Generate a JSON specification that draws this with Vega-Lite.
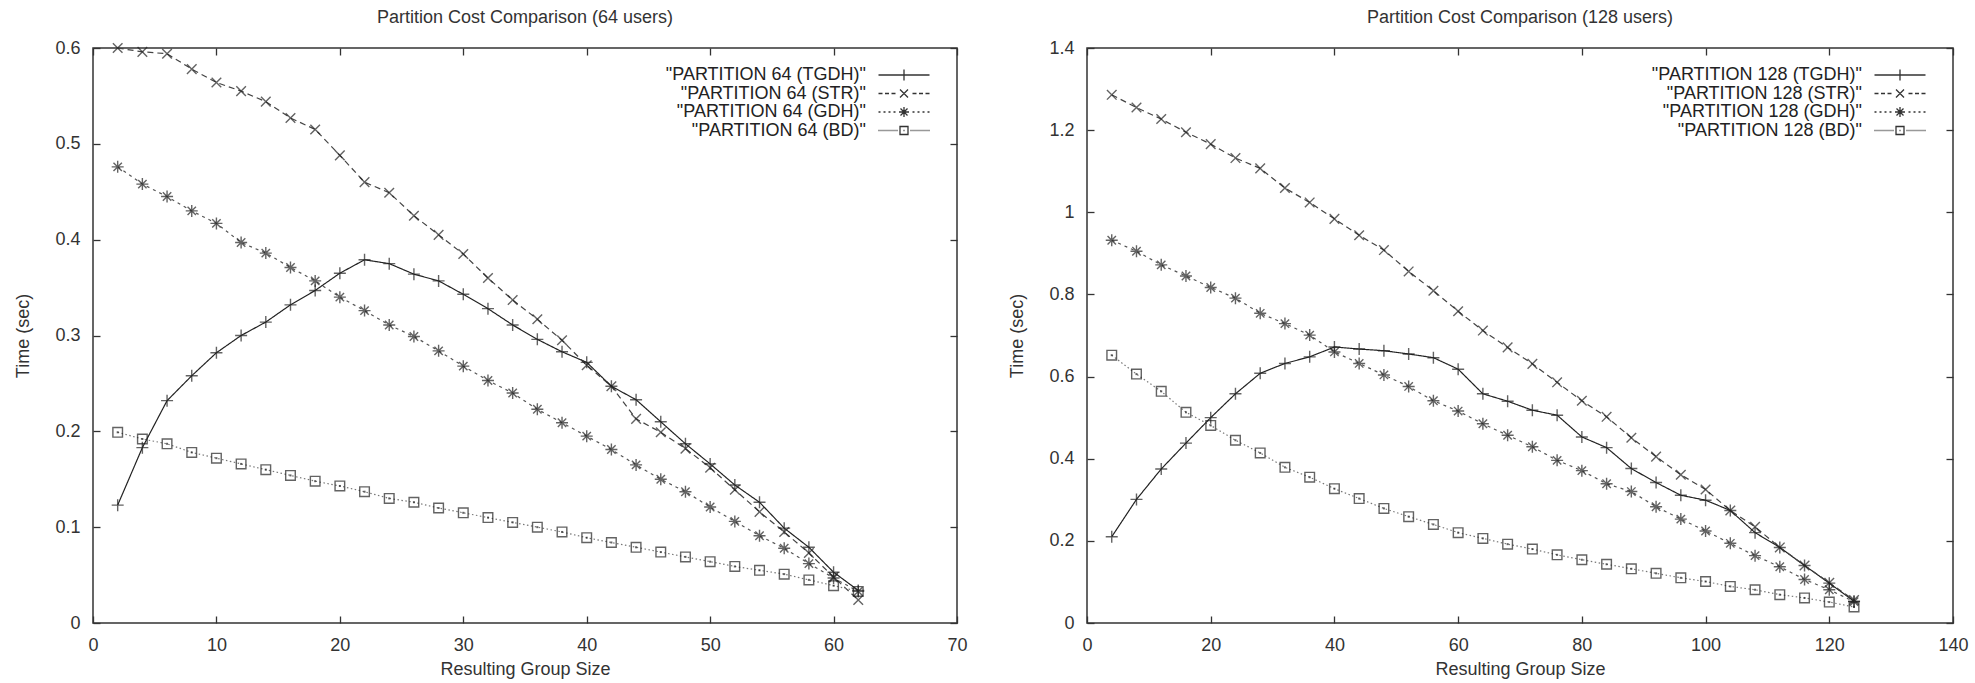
{
  "$schema": "https://vega.github.io/schema/vega-lite/v6.json",
  "padding": {"left": 14, "top": 8, "right": 5, "bottom": 0},
  "background": "white",
  "spacing": 40,
  "config": {
    "font": "Liberation Sans",
    "view": {"stroke": "#333", "strokeWidth": 1.5},
    "title": {"fontSize": 18, "fontWeight": "normal", "color": "#333", "font": "Liberation Sans", "offset": 12},
    "axis": {
      "domain": false, "grid": false,
      "labelFont": "Liberation Sans", "labelFontSize": 18, "labelColor": "#333",
      "titleFont": "Liberation Sans", "titleFontSize": 18, "titleFontWeight": "normal", "titleColor": "#333",
      "tickColor": "#333", "tickWidth": 1.3, "tickSize": -7, "labelPadding": 20,
      "labelFlush": false, "labelOverlap": false
    },
    "axisY": {"titlePadding": 22},
    "axisX": {"titlePadding": 6}
  },
  "datasets": {
    "d64": [
      {"s":"PARTITION 64 (TGDH)","x":2,"y":0.123},{"s":"PARTITION 64 (TGDH)","x":4,"y":0.183},{"s":"PARTITION 64 (TGDH)","x":6,"y":0.232},{"s":"PARTITION 64 (TGDH)","x":8,"y":0.258},{"s":"PARTITION 64 (TGDH)","x":10,"y":0.282},{"s":"PARTITION 64 (TGDH)","x":12,"y":0.300},{"s":"PARTITION 64 (TGDH)","x":14,"y":0.314},{"s":"PARTITION 64 (TGDH)","x":16,"y":0.332},{"s":"PARTITION 64 (TGDH)","x":18,"y":0.347},{"s":"PARTITION 64 (TGDH)","x":20,"y":0.365},{"s":"PARTITION 64 (TGDH)","x":22,"y":0.379},{"s":"PARTITION 64 (TGDH)","x":24,"y":0.375},{"s":"PARTITION 64 (TGDH)","x":26,"y":0.364},{"s":"PARTITION 64 (TGDH)","x":28,"y":0.357},{"s":"PARTITION 64 (TGDH)","x":30,"y":0.343},{"s":"PARTITION 64 (TGDH)","x":32,"y":0.328},{"s":"PARTITION 64 (TGDH)","x":34,"y":0.311},{"s":"PARTITION 64 (TGDH)","x":36,"y":0.296},{"s":"PARTITION 64 (TGDH)","x":38,"y":0.283},{"s":"PARTITION 64 (TGDH)","x":40,"y":0.272},{"s":"PARTITION 64 (TGDH)","x":42,"y":0.247},{"s":"PARTITION 64 (TGDH)","x":44,"y":0.233},{"s":"PARTITION 64 (TGDH)","x":46,"y":0.210},{"s":"PARTITION 64 (TGDH)","x":48,"y":0.187},{"s":"PARTITION 64 (TGDH)","x":50,"y":0.166},{"s":"PARTITION 64 (TGDH)","x":52,"y":0.144},{"s":"PARTITION 64 (TGDH)","x":54,"y":0.126},{"s":"PARTITION 64 (TGDH)","x":56,"y":0.099},{"s":"PARTITION 64 (TGDH)","x":58,"y":0.079},{"s":"PARTITION 64 (TGDH)","x":60,"y":0.053},{"s":"PARTITION 64 (TGDH)","x":62,"y":0.034},
      {"s":"PARTITION 64 (STR)","x":2,"y":0.600},{"s":"PARTITION 64 (STR)","x":4,"y":0.596},{"s":"PARTITION 64 (STR)","x":6,"y":0.594},{"s":"PARTITION 64 (STR)","x":8,"y":0.578},{"s":"PARTITION 64 (STR)","x":10,"y":0.564},{"s":"PARTITION 64 (STR)","x":12,"y":0.555},{"s":"PARTITION 64 (STR)","x":14,"y":0.544},{"s":"PARTITION 64 (STR)","x":16,"y":0.527},{"s":"PARTITION 64 (STR)","x":18,"y":0.515},{"s":"PARTITION 64 (STR)","x":20,"y":0.488},{"s":"PARTITION 64 (STR)","x":22,"y":0.460},{"s":"PARTITION 64 (STR)","x":24,"y":0.449},{"s":"PARTITION 64 (STR)","x":26,"y":0.425},{"s":"PARTITION 64 (STR)","x":28,"y":0.405},{"s":"PARTITION 64 (STR)","x":30,"y":0.385},{"s":"PARTITION 64 (STR)","x":32,"y":0.360},{"s":"PARTITION 64 (STR)","x":34,"y":0.337},{"s":"PARTITION 64 (STR)","x":36,"y":0.317},{"s":"PARTITION 64 (STR)","x":38,"y":0.295},{"s":"PARTITION 64 (STR)","x":40,"y":0.269},{"s":"PARTITION 64 (STR)","x":42,"y":0.247},{"s":"PARTITION 64 (STR)","x":44,"y":0.213},{"s":"PARTITION 64 (STR)","x":46,"y":0.199},{"s":"PARTITION 64 (STR)","x":48,"y":0.182},{"s":"PARTITION 64 (STR)","x":50,"y":0.162},{"s":"PARTITION 64 (STR)","x":52,"y":0.139},{"s":"PARTITION 64 (STR)","x":54,"y":0.116},{"s":"PARTITION 64 (STR)","x":56,"y":0.095},{"s":"PARTITION 64 (STR)","x":58,"y":0.073},{"s":"PARTITION 64 (STR)","x":60,"y":0.048},{"s":"PARTITION 64 (STR)","x":62,"y":0.024},
      {"s":"PARTITION 64 (GDH)","x":2,"y":0.476},{"s":"PARTITION 64 (GDH)","x":4,"y":0.458},{"s":"PARTITION 64 (GDH)","x":6,"y":0.445},{"s":"PARTITION 64 (GDH)","x":8,"y":0.430},{"s":"PARTITION 64 (GDH)","x":10,"y":0.417},{"s":"PARTITION 64 (GDH)","x":12,"y":0.397},{"s":"PARTITION 64 (GDH)","x":14,"y":0.386},{"s":"PARTITION 64 (GDH)","x":16,"y":0.371},{"s":"PARTITION 64 (GDH)","x":18,"y":0.357},{"s":"PARTITION 64 (GDH)","x":20,"y":0.340},{"s":"PARTITION 64 (GDH)","x":22,"y":0.326},{"s":"PARTITION 64 (GDH)","x":24,"y":0.311},{"s":"PARTITION 64 (GDH)","x":26,"y":0.299},{"s":"PARTITION 64 (GDH)","x":28,"y":0.284},{"s":"PARTITION 64 (GDH)","x":30,"y":0.268},{"s":"PARTITION 64 (GDH)","x":32,"y":0.253},{"s":"PARTITION 64 (GDH)","x":34,"y":0.240},{"s":"PARTITION 64 (GDH)","x":36,"y":0.223},{"s":"PARTITION 64 (GDH)","x":38,"y":0.209},{"s":"PARTITION 64 (GDH)","x":40,"y":0.195},{"s":"PARTITION 64 (GDH)","x":42,"y":0.181},{"s":"PARTITION 64 (GDH)","x":44,"y":0.165},{"s":"PARTITION 64 (GDH)","x":46,"y":0.150},{"s":"PARTITION 64 (GDH)","x":48,"y":0.137},{"s":"PARTITION 64 (GDH)","x":50,"y":0.121},{"s":"PARTITION 64 (GDH)","x":52,"y":0.106},{"s":"PARTITION 64 (GDH)","x":54,"y":0.091},{"s":"PARTITION 64 (GDH)","x":56,"y":0.078},{"s":"PARTITION 64 (GDH)","x":58,"y":0.062},{"s":"PARTITION 64 (GDH)","x":60,"y":0.047},{"s":"PARTITION 64 (GDH)","x":62,"y":0.033},
      {"s":"PARTITION 64 (BD)","x":2,"y":0.199},{"s":"PARTITION 64 (BD)","x":4,"y":0.192},{"s":"PARTITION 64 (BD)","x":6,"y":0.187},{"s":"PARTITION 64 (BD)","x":8,"y":0.178},{"s":"PARTITION 64 (BD)","x":10,"y":0.172},{"s":"PARTITION 64 (BD)","x":12,"y":0.166},{"s":"PARTITION 64 (BD)","x":14,"y":0.160},{"s":"PARTITION 64 (BD)","x":16,"y":0.154},{"s":"PARTITION 64 (BD)","x":18,"y":0.148},{"s":"PARTITION 64 (BD)","x":20,"y":0.143},{"s":"PARTITION 64 (BD)","x":22,"y":0.137},{"s":"PARTITION 64 (BD)","x":24,"y":0.130},{"s":"PARTITION 64 (BD)","x":26,"y":0.126},{"s":"PARTITION 64 (BD)","x":28,"y":0.120},{"s":"PARTITION 64 (BD)","x":30,"y":0.115},{"s":"PARTITION 64 (BD)","x":32,"y":0.110},{"s":"PARTITION 64 (BD)","x":34,"y":0.105},{"s":"PARTITION 64 (BD)","x":36,"y":0.100},{"s":"PARTITION 64 (BD)","x":38,"y":0.095},{"s":"PARTITION 64 (BD)","x":40,"y":0.089},{"s":"PARTITION 64 (BD)","x":42,"y":0.084},{"s":"PARTITION 64 (BD)","x":44,"y":0.079},{"s":"PARTITION 64 (BD)","x":46,"y":0.074},{"s":"PARTITION 64 (BD)","x":48,"y":0.069},{"s":"PARTITION 64 (BD)","x":50,"y":0.064},{"s":"PARTITION 64 (BD)","x":52,"y":0.059},{"s":"PARTITION 64 (BD)","x":54,"y":0.055},{"s":"PARTITION 64 (BD)","x":56,"y":0.051},{"s":"PARTITION 64 (BD)","x":58,"y":0.045},{"s":"PARTITION 64 (BD)","x":60,"y":0.039},{"s":"PARTITION 64 (BD)","x":62,"y":0.033}
    ],
    "d128": [
      {"s":"PARTITION 128 (TGDH)","x":4,"y":0.210},{"s":"PARTITION 128 (TGDH)","x":8,"y":0.301},{"s":"PARTITION 128 (TGDH)","x":12,"y":0.375},{"s":"PARTITION 128 (TGDH)","x":16,"y":0.438},{"s":"PARTITION 128 (TGDH)","x":20,"y":0.500},{"s":"PARTITION 128 (TGDH)","x":24,"y":0.558},{"s":"PARTITION 128 (TGDH)","x":28,"y":0.608},{"s":"PARTITION 128 (TGDH)","x":32,"y":0.632},{"s":"PARTITION 128 (TGDH)","x":36,"y":0.648},{"s":"PARTITION 128 (TGDH)","x":40,"y":0.672},{"s":"PARTITION 128 (TGDH)","x":44,"y":0.667},{"s":"PARTITION 128 (TGDH)","x":48,"y":0.663},{"s":"PARTITION 128 (TGDH)","x":52,"y":0.655},{"s":"PARTITION 128 (TGDH)","x":56,"y":0.646},{"s":"PARTITION 128 (TGDH)","x":60,"y":0.618},{"s":"PARTITION 128 (TGDH)","x":64,"y":0.558},{"s":"PARTITION 128 (TGDH)","x":68,"y":0.540},{"s":"PARTITION 128 (TGDH)","x":72,"y":0.518},{"s":"PARTITION 128 (TGDH)","x":76,"y":0.506},{"s":"PARTITION 128 (TGDH)","x":80,"y":0.453},{"s":"PARTITION 128 (TGDH)","x":84,"y":0.427},{"s":"PARTITION 128 (TGDH)","x":88,"y":0.376},{"s":"PARTITION 128 (TGDH)","x":92,"y":0.342},{"s":"PARTITION 128 (TGDH)","x":96,"y":0.311},{"s":"PARTITION 128 (TGDH)","x":100,"y":0.299},{"s":"PARTITION 128 (TGDH)","x":104,"y":0.274},{"s":"PARTITION 128 (TGDH)","x":108,"y":0.220},{"s":"PARTITION 128 (TGDH)","x":112,"y":0.184},{"s":"PARTITION 128 (TGDH)","x":116,"y":0.140},{"s":"PARTITION 128 (TGDH)","x":120,"y":0.097},{"s":"PARTITION 128 (TGDH)","x":124,"y":0.053},
      {"s":"PARTITION 128 (STR)","x":4,"y":1.286},{"s":"PARTITION 128 (STR)","x":8,"y":1.255},{"s":"PARTITION 128 (STR)","x":12,"y":1.227},{"s":"PARTITION 128 (STR)","x":16,"y":1.195},{"s":"PARTITION 128 (STR)","x":20,"y":1.166},{"s":"PARTITION 128 (STR)","x":24,"y":1.132},{"s":"PARTITION 128 (STR)","x":28,"y":1.107},{"s":"PARTITION 128 (STR)","x":32,"y":1.059},{"s":"PARTITION 128 (STR)","x":36,"y":1.024},{"s":"PARTITION 128 (STR)","x":40,"y":0.984},{"s":"PARTITION 128 (STR)","x":44,"y":0.944},{"s":"PARTITION 128 (STR)","x":48,"y":0.908},{"s":"PARTITION 128 (STR)","x":52,"y":0.856},{"s":"PARTITION 128 (STR)","x":56,"y":0.809},{"s":"PARTITION 128 (STR)","x":60,"y":0.759},{"s":"PARTITION 128 (STR)","x":64,"y":0.712},{"s":"PARTITION 128 (STR)","x":68,"y":0.671},{"s":"PARTITION 128 (STR)","x":72,"y":0.631},{"s":"PARTITION 128 (STR)","x":76,"y":0.586},{"s":"PARTITION 128 (STR)","x":80,"y":0.541},{"s":"PARTITION 128 (STR)","x":84,"y":0.502},{"s":"PARTITION 128 (STR)","x":88,"y":0.451},{"s":"PARTITION 128 (STR)","x":92,"y":0.405},{"s":"PARTITION 128 (STR)","x":96,"y":0.361},{"s":"PARTITION 128 (STR)","x":100,"y":0.325},{"s":"PARTITION 128 (STR)","x":104,"y":0.274},{"s":"PARTITION 128 (STR)","x":108,"y":0.234},{"s":"PARTITION 128 (STR)","x":112,"y":0.184},{"s":"PARTITION 128 (STR)","x":116,"y":0.140},{"s":"PARTITION 128 (STR)","x":120,"y":0.098},{"s":"PARTITION 128 (STR)","x":124,"y":0.056},
      {"s":"PARTITION 128 (GDH)","x":4,"y":0.932},{"s":"PARTITION 128 (GDH)","x":8,"y":0.905},{"s":"PARTITION 128 (GDH)","x":12,"y":0.872},{"s":"PARTITION 128 (GDH)","x":16,"y":0.845},{"s":"PARTITION 128 (GDH)","x":20,"y":0.817},{"s":"PARTITION 128 (GDH)","x":24,"y":0.791},{"s":"PARTITION 128 (GDH)","x":28,"y":0.754},{"s":"PARTITION 128 (GDH)","x":32,"y":0.729},{"s":"PARTITION 128 (GDH)","x":36,"y":0.701},{"s":"PARTITION 128 (GDH)","x":40,"y":0.660},{"s":"PARTITION 128 (GDH)","x":44,"y":0.632},{"s":"PARTITION 128 (GDH)","x":48,"y":0.604},{"s":"PARTITION 128 (GDH)","x":52,"y":0.576},{"s":"PARTITION 128 (GDH)","x":56,"y":0.541},{"s":"PARTITION 128 (GDH)","x":60,"y":0.516},{"s":"PARTITION 128 (GDH)","x":64,"y":0.485},{"s":"PARTITION 128 (GDH)","x":68,"y":0.457},{"s":"PARTITION 128 (GDH)","x":72,"y":0.429},{"s":"PARTITION 128 (GDH)","x":76,"y":0.396},{"s":"PARTITION 128 (GDH)","x":80,"y":0.371},{"s":"PARTITION 128 (GDH)","x":84,"y":0.339},{"s":"PARTITION 128 (GDH)","x":88,"y":0.320},{"s":"PARTITION 128 (GDH)","x":92,"y":0.283},{"s":"PARTITION 128 (GDH)","x":96,"y":0.253},{"s":"PARTITION 128 (GDH)","x":100,"y":0.224},{"s":"PARTITION 128 (GDH)","x":104,"y":0.194},{"s":"PARTITION 128 (GDH)","x":108,"y":0.164},{"s":"PARTITION 128 (GDH)","x":112,"y":0.137},{"s":"PARTITION 128 (GDH)","x":116,"y":0.106},{"s":"PARTITION 128 (GDH)","x":120,"y":0.081},{"s":"PARTITION 128 (GDH)","x":124,"y":0.052},
      {"s":"PARTITION 128 (BD)","x":4,"y":0.652},{"s":"PARTITION 128 (BD)","x":8,"y":0.606},{"s":"PARTITION 128 (BD)","x":12,"y":0.564},{"s":"PARTITION 128 (BD)","x":16,"y":0.513},{"s":"PARTITION 128 (BD)","x":20,"y":0.481},{"s":"PARTITION 128 (BD)","x":24,"y":0.445},{"s":"PARTITION 128 (BD)","x":28,"y":0.414},{"s":"PARTITION 128 (BD)","x":32,"y":0.379},{"s":"PARTITION 128 (BD)","x":36,"y":0.355},{"s":"PARTITION 128 (BD)","x":40,"y":0.327},{"s":"PARTITION 128 (BD)","x":44,"y":0.303},{"s":"PARTITION 128 (BD)","x":48,"y":0.279},{"s":"PARTITION 128 (BD)","x":52,"y":0.259},{"s":"PARTITION 128 (BD)","x":56,"y":0.240},{"s":"PARTITION 128 (BD)","x":60,"y":0.220},{"s":"PARTITION 128 (BD)","x":64,"y":0.206},{"s":"PARTITION 128 (BD)","x":68,"y":0.192},{"s":"PARTITION 128 (BD)","x":72,"y":0.180},{"s":"PARTITION 128 (BD)","x":76,"y":0.166},{"s":"PARTITION 128 (BD)","x":80,"y":0.154},{"s":"PARTITION 128 (BD)","x":84,"y":0.143},{"s":"PARTITION 128 (BD)","x":88,"y":0.132},{"s":"PARTITION 128 (BD)","x":92,"y":0.121},{"s":"PARTITION 128 (BD)","x":96,"y":0.110},{"s":"PARTITION 128 (BD)","x":100,"y":0.101},{"s":"PARTITION 128 (BD)","x":104,"y":0.089},{"s":"PARTITION 128 (BD)","x":108,"y":0.081},{"s":"PARTITION 128 (BD)","x":112,"y":0.069},{"s":"PARTITION 128 (BD)","x":116,"y":0.061},{"s":"PARTITION 128 (BD)","x":120,"y":0.051},{"s":"PARTITION 128 (BD)","x":124,"y":0.039}
    ]
  },
  "resolve": {
    "scale": {"color": "independent", "shape": "independent", "strokeDash": "independent"},
    "legend": {"color": "independent", "shape": "independent", "strokeDash": "independent"}
  },
  "hconcat": [
    {
      "width": 864, "height": 575,
      "title": {"text": "Partition Cost Comparison (64 users)"},
      "data": {"name": "d64"},
      "resolve": {"axis": {"x": "independent", "y": "independent"}, "scale": {"shape": "independent"}, "legend": {"shape": "independent"}},
      "layer": [
        {
          "mark": {"type": "line", "strokeWidth": 1.2},
          "encoding": {
            "x": {"field": "x", "type": "quantitative", "scale": {"domain": [0, 70], "nice": false}, "axis": {"orient": "bottom", "title": "Resulting Group Size", "values": [0,10,20,30,40,50,60,70]}},
            "y": {"field": "y", "type": "quantitative", "scale": {"domain": [0, 0.6], "nice": false}, "axis": {"orient": "left", "title": "Time (sec)", "values": [0,0.1,0.2,0.3,0.4,0.5,0.6], "format": "~g"}},
            "color": {"field": "s", "type": "nominal", "scale": {"domain": ["PARTITION 64 (BD)","PARTITION 64 (GDH)","PARTITION 64 (STR)","PARTITION 64 (TGDH)"], "range": ["#777777","#555555","#444444","#222222"]}, "legend": null},
            "strokeDash": {"field": "s", "type": "nominal", "scale": {"domain": ["PARTITION 64 (STR)","PARTITION 64 (TGDH)","PARTITION 64 (BD)","PARTITION 64 (GDH)"], "range": [[6,4],[1,0],[1.5,2.5],[3,4]]}, "legend": null}
          }
        },
        {
          "mark": {"type": "point", "filled": false, "size": 144, "strokeWidth": 1.4, "color": "#222222"},
          "encoding": {
            "x": {"field": "x", "type": "quantitative", "axis": null},
            "y": {"field": "y", "type": "quantitative", "axis": null},
            "shape": {"field": "s", "type": "nominal",
              "scale": {"domain": ["PARTITION 64 (BD)","PARTITION 64 (GDH)","PARTITION 64 (STR)","PARTITION 64 (TGDH)"],
                        "range": ["M-0.8,-0.8L0.8,-0.8L0.8,0.8L-0.8,0.8Z","M-1,0L1,0M0,-1L0,1M-0.7,-0.7L0.7,0.7M-0.7,0.7L0.7,-0.7","M-0.8,-0.8L0.8,0.8M-0.8,0.8L0.8,-0.8","M-1,0L1,0M0,-1L0,1"]},
              "legend": null
            }
          }
        },
        {
          "transform": [{"filter": "indexof(datum.s,'(BD)')>=0"}],
          "mark": {"type": "point", "filled": true, "size": 4, "shape": "square", "color": "#222222"},
          "encoding": {
            "x": {"field": "x", "type": "quantitative", "axis": null},
            "y": {"field": "y", "type": "quantitative", "axis": null}
          }
        },
        {
          "mark": {"type": "point", "opacity": 0},
          "encoding": {
            "x": {"field": "x", "type": "quantitative", "axis": {"orient": "top", "title": null, "labels": false, "values": [0,10,20,30,40,50,60,70]}},
            "y": {"field": "y", "type": "quantitative", "axis": {"orient": "right", "title": null, "labels": false, "values": [0,0.1,0.2,0.3,0.4,0.5,0.6]}}
          }
        },
        {
          "mark": {"type": "point", "filled": false, "size": 100, "strokeWidth": 1.3, "color": "#333333", "opacity": 0},
          "encoding": {
            "x": {"field": "x", "type": "quantitative", "axis": null},
            "y": {"field": "y", "type": "quantitative", "axis": null},
            "shape": {"field": "s", "type": "nominal",
              "scale": {"domain": ["PARTITION 64 (TGDH)","PARTITION 64 (STR)","PARTITION 64 (GDH)","PARTITION 64 (BD)"],
                        "range": ["M-5.1,0L5.1,0M0,-1.1L0,1.1M6.3,0","M-5.1,0L-4.3,0M-3.8,0L-3,0M-2.5,0L-1.7,0M1.7,0L2.5,0M3,0L3.8,0M4.3,0L5.1,0M-0.8,-0.8L0.8,0.8M-0.8,0.8L0.8,-0.8M6.3,0","M-5.1,0L-4.7,0M-4.1,0L-3.7,0M-3.1,0L-2.7,0M-2.1,0L-1.7,0M1.7,0L2.1,0M2.7,0L3.1,0M3.7,0L4.1,0M4.7,0L5.1,0M-1,0L1,0M0,-1L0,1M-0.7,-0.7L0.7,0.7M-0.7,0.7L0.7,-0.7M6.3,0","M-5.1,0L-4.9,0M-4.7,0L-4.5,0M-4.3,0L-4.1,0M-3.9,0L-3.7,0M-3.5,0L-3.3,0M-3.1,0L-2.9,0M-2.7,0L-2.5,0M-2.3,0L-2.1,0M-1.9,0L-1.7,0M-1.5,0L-1.3,0M1.3,0L1.5,0M1.7,0L1.9,0M2.1,0L2.3,0M2.5,0L2.7,0M2.9,0L3.1,0M3.3,0L3.5,0M3.7,0L3.9,0M4.1,0L4.3,0M4.5,0L4.7,0M4.9,0L5.1,0M-0.8,-0.8L0.8,-0.8L0.8,0.8L-0.8,0.8ZM-0.1,0L0.1,0M6.3,0"]},
              "legend": {
                "title": null, "orient": "top-right", "offset": 18, "padding": 0,
                "labelAlign": "right", "labelOffset": -47, "labelLimit": 400,
                "labelFont": "Liberation Sans", "labelFontSize": 18, "labelColor": "#222",
                "symbolSize": 100, "symbolStrokeWidth": 1.3, "symbolStrokeColor": "#333", "symbolFillColor": "transparent", "symbolOpacity": 1,
                "rowPadding": 0.5,
                "labelExpr": "'\"' + datum.label + '\"'"
              }
            }
          }
        }
      ]
    },
    {
      "width": 866, "height": 575,
      "title": {"text": "Partition Cost Comparison (128 users)"},
      "data": {"name": "d128"},
      "resolve": {"axis": {"x": "independent", "y": "independent"}, "scale": {"shape": "independent"}, "legend": {"shape": "independent"}},
      "layer": [
        {
          "mark": {"type": "line", "strokeWidth": 1.2},
          "encoding": {
            "x": {"field": "x", "type": "quantitative", "scale": {"domain": [0, 140], "nice": false}, "axis": {"orient": "bottom", "title": "Resulting Group Size", "values": [0,20,40,60,80,100,120,140]}},
            "y": {"field": "y", "type": "quantitative", "scale": {"domain": [0, 1.4], "nice": false}, "axis": {"orient": "left", "title": "Time (sec)", "values": [0,0.2,0.4,0.6,0.8,1,1.2,1.4], "format": "~g"}},
            "color": {"field": "s", "type": "nominal", "scale": {"domain": ["PARTITION 128 (BD)","PARTITION 128 (GDH)","PARTITION 128 (STR)","PARTITION 128 (TGDH)"], "range": ["#777777","#555555","#444444","#222222"]}, "legend": null},
            "strokeDash": {"field": "s", "type": "nominal", "scale": {"domain": ["PARTITION 128 (STR)","PARTITION 128 (TGDH)","PARTITION 128 (BD)","PARTITION 128 (GDH)"], "range": [[6,4],[1,0],[1.5,2.5],[3,4]]}, "legend": null}
          }
        },
        {
          "mark": {"type": "point", "filled": false, "size": 144, "strokeWidth": 1.4, "color": "#222222"},
          "encoding": {
            "x": {"field": "x", "type": "quantitative", "axis": null},
            "y": {"field": "y", "type": "quantitative", "axis": null},
            "shape": {"field": "s", "type": "nominal",
              "scale": {"domain": ["PARTITION 128 (BD)","PARTITION 128 (GDH)","PARTITION 128 (STR)","PARTITION 128 (TGDH)"],
                        "range": ["M-0.8,-0.8L0.8,-0.8L0.8,0.8L-0.8,0.8Z","M-1,0L1,0M0,-1L0,1M-0.7,-0.7L0.7,0.7M-0.7,0.7L0.7,-0.7","M-0.8,-0.8L0.8,0.8M-0.8,0.8L0.8,-0.8","M-1,0L1,0M0,-1L0,1"]},
              "legend": null
            }
          }
        },
        {
          "transform": [{"filter": "indexof(datum.s,'(BD)')>=0"}],
          "mark": {"type": "point", "filled": true, "size": 4, "shape": "square", "color": "#222222"},
          "encoding": {
            "x": {"field": "x", "type": "quantitative", "axis": null},
            "y": {"field": "y", "type": "quantitative", "axis": null}
          }
        },
        {
          "mark": {"type": "point", "opacity": 0},
          "encoding": {
            "x": {"field": "x", "type": "quantitative", "axis": {"orient": "top", "title": null, "labels": false, "values": [0,20,40,60,80,100,120,140]}},
            "y": {"field": "y", "type": "quantitative", "axis": {"orient": "right", "title": null, "labels": false, "values": [0,0.2,0.4,0.6,0.8,1,1.2,1.4]}}
          }
        },
        {
          "mark": {"type": "point", "filled": false, "size": 100, "strokeWidth": 1.3, "color": "#333333", "opacity": 0},
          "encoding": {
            "x": {"field": "x", "type": "quantitative", "axis": null},
            "y": {"field": "y", "type": "quantitative", "axis": null},
            "shape": {"field": "s", "type": "nominal",
              "scale": {"domain": ["PARTITION 128 (TGDH)","PARTITION 128 (STR)","PARTITION 128 (GDH)","PARTITION 128 (BD)"],
                        "range": ["M-5.1,0L5.1,0M0,-1.1L0,1.1M6.3,0","M-5.1,0L-4.3,0M-3.8,0L-3,0M-2.5,0L-1.7,0M1.7,0L2.5,0M3,0L3.8,0M4.3,0L5.1,0M-0.8,-0.8L0.8,0.8M-0.8,0.8L0.8,-0.8M6.3,0","M-5.1,0L-4.7,0M-4.1,0L-3.7,0M-3.1,0L-2.7,0M-2.1,0L-1.7,0M1.7,0L2.1,0M2.7,0L3.1,0M3.7,0L4.1,0M4.7,0L5.1,0M-1,0L1,0M0,-1L0,1M-0.7,-0.7L0.7,0.7M-0.7,0.7L0.7,-0.7M6.3,0","M-5.1,0L-4.9,0M-4.7,0L-4.5,0M-4.3,0L-4.1,0M-3.9,0L-3.7,0M-3.5,0L-3.3,0M-3.1,0L-2.9,0M-2.7,0L-2.5,0M-2.3,0L-2.1,0M-1.9,0L-1.7,0M-1.5,0L-1.3,0M1.3,0L1.5,0M1.7,0L1.9,0M2.1,0L2.3,0M2.5,0L2.7,0M2.9,0L3.1,0M3.3,0L3.5,0M3.7,0L3.9,0M4.1,0L4.3,0M4.5,0L4.7,0M4.9,0L5.1,0M-0.8,-0.8L0.8,-0.8L0.8,0.8L-0.8,0.8ZM-0.1,0L0.1,0M6.3,0"]},
              "legend": {
                "title": null, "orient": "top-right", "offset": 18, "padding": 0,
                "labelAlign": "right", "labelOffset": -47, "labelLimit": 400,
                "labelFont": "Liberation Sans", "labelFontSize": 18, "labelColor": "#222",
                "symbolSize": 100, "symbolStrokeWidth": 1.3, "symbolStrokeColor": "#333", "symbolFillColor": "transparent", "symbolOpacity": 1,
                "rowPadding": 0.5,
                "labelExpr": "'\"' + datum.label + '\"'"
              }
            }
          }
        }
      ]
    }
  ]
}
